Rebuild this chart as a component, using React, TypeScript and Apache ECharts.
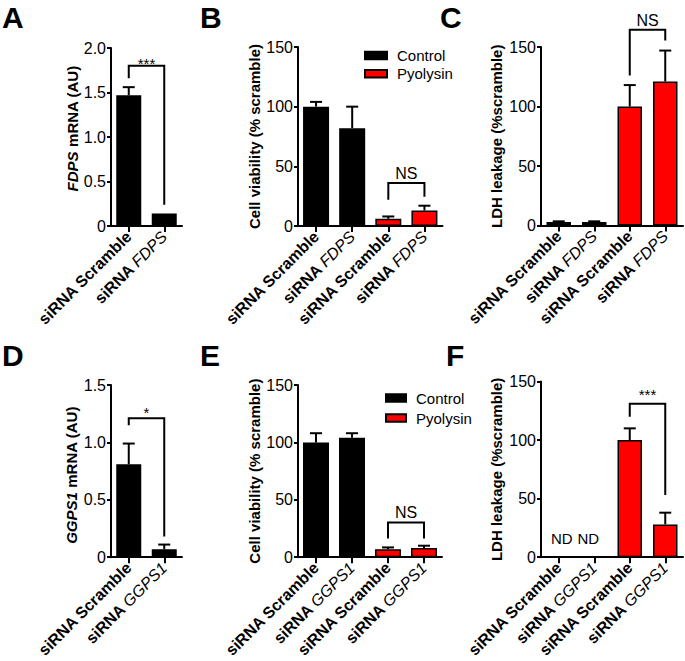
import React, { useEffect, useRef } from 'react';
import * as echarts from 'echarts';

const FONT = '"Liberation Sans", Arial, Helvetica, sans-serif';

// ---------- categories ----------
const catsA = ['siRNA Scramble', 'siRNA FDPS'];
const catsB = ['siRNA Scramble', 'siRNA FDPS', 'siRNA Scramble', 'siRNA FDPS'];
const catsC = ['siRNA Scramble', 'siRNA FDPS', 'siRNA Scramble', 'siRNA FDPS'];
const catsD = ['siRNA Scramble', 'siRNA GGPS1'];
const catsE = ['siRNA Scramble', 'siRNA GGPS1', 'siRNA Scramble', 'siRNA GGPS1'];
const catsF = ['siRNA Scramble', 'siRNA GGPS1', 'siRNA Scramble', 'siRNA GGPS1'];

const groups2 = ['Control', 'Control'];
const groups4 = ['Control', 'Control', 'Pyolysin', 'Pyolysin'];

// ---------- values (mean) and errors (SEM, upward) ----------
const aValues = [1.47, 0.14];
const aErrors = [0.09, 0];
const bValues = [100, 82, 6, 13];
const bErrors = [4, 18, 2, 4];
const cValues = [3, 3, 100, 121];
const cErrors = [0.5, 0.5, 18, 26];
const dValues = [0.81, 0.07];
const dErrors = [0.18, 0.04];
const eValues = [100, 104, 7, 8];
const eErrors = [8, 4, 1.5, 2];
const fValues = [0, 0, 100, 28];
const fErrors = [0, 0, 10, 10];
const fNotDetected = [true, true, false, false];

// ---------- significance brackets: [fromIdx, toIdx, top, leftLegEnd, rightLegEnd] ----------
const aBracket = [0, 1, 1.8, 1.66, 0.24];
const bBracket = [2, 3, 36, 22, 24.5];
const cBracket = [2, 3, 164.5, 126, 155.5];
const dBracket = [0, 1, 1.21, 1.15, 0.18];
const eBracket = [2, 3, 30.3, 16.3, 16.3];
const fBracket = [2, 3, 131, 120, 53];
const aSig = '***';
const bSig = 'NS';
const cSig = 'NS';
const dSig = '*';
const eSig = 'NS';
const fSig = '***';

// ---------- y ticks ----------
const aTicks = [0, 0.5, 1.0, 1.5, 2.0];
const bTicks = [0, 50, 100, 150];
const cTicks = [0, 50, 100, 150];
const dTicks = [0, 0.5, 1.0, 1.5];
const eTicks = [0, 50, 100, 150];
const fTicks = [0, 50, 100, 150];

// ---------- titles ----------
const aTitle = '{bi|FDPS}{b| mRNA (AU)}';
const bTitle = '{b|Cell viability (% scramble)}';
const cTitle = '{b|LDH leakage (%scramble)}';
const dTitle = '{bi|GGPS1}{b| mRNA (AU)}';
const eTitle = '{b|Cell viability (% scramble)}';
const fTitle = '{b|LDH leakage (%scramble)}';
const panelLetters = ['A', 'B', 'C', 'D', 'E', 'F'];
const legendNames = ['Control', 'Pyolysin'];

// ---------- layout (pixels) ----------
const layouts = [
  { left: 111, top: 48, width: 71, height: 178, barWidth: 25, nameGap: 25, namePad: [0, 0, 0, 17], sigGap: 2.5, letter: [2, 2] },
  { left: 298, top: 47, width: 144.5, height: 179, barWidth: 26, nameGap: 35, namePad: [0, 0, 0, 0], sigGap: 9.7, letter: [200, 2] },
  { left: 541, top: 47, width: 142, height: 178.5, barWidth: 24.5, nameGap: 37, namePad: [0, 0, 0, 0], sigGap: 9.3, letter: [440, 2] },
  { left: 111, top: 385, width: 71, height: 178.3, barWidth: 25, nameGap: 32, namePad: [0, 8, 0, 0], sigGap: 5.5, letter: [2, 340] },
  { left: 298, top: 385, width: 144, height: 177.7, barWidth: 26, nameGap: 35, namePad: [0, 0, 0, 0], sigGap: 10, letter: [200, 340] },
  { left: 541, top: 381.5, width: 142, height: 178.5, barWidth: 24.5, nameGap: 37, namePad: [0, 0, 0, 0], sigGap: 8.8, letter: [446, 340] },
];

const panels = [
  { cats: catsA, values: aValues, errors: aErrors, groups: groups2, bracket: aBracket, sig: aSig, ticks: aTicks, title: aTitle, nd: null as boolean[] | null },
  { cats: catsB, values: bValues, errors: bErrors, groups: groups4, bracket: bBracket, sig: bSig, ticks: bTicks, title: bTitle, nd: null },
  { cats: catsC, values: cValues, errors: cErrors, groups: groups4, bracket: cBracket, sig: cSig, ticks: cTicks, title: cTitle, nd: null },
  { cats: catsD, values: dValues, errors: dErrors, groups: groups2, bracket: dBracket, sig: dSig, ticks: dTicks, title: dTitle, nd: null },
  { cats: catsE, values: eValues, errors: eErrors, groups: groups4, bracket: eBracket, sig: eSig, ticks: eTicks, title: eTitle, nd: null },
  { cats: catsF, values: fValues, errors: fErrors, groups: groups4, bracket: fBracket, sig: fSig, ticks: fTicks, title: fTitle, nd: fNotDetected },
];

const ndOffsets = [[3, 0], [-6, 0]];

const xLabelRich = {
  b: { fontWeight: 'bold', fontSize: 16, fontFamily: FONT, color: '#000' },
  i: { fontStyle: 'italic', fontSize: 16, fontFamily: FONT, color: '#000' },
};
const nameRich = {
  b: { fontWeight: 'bold', fontSize: 15, fontFamily: FONT, color: '#000' },
  bi: { fontWeight: 'bold', fontStyle: 'italic', fontSize: 15, fontFamily: FONT, color: '#000' },
};

function xLabelFormatter(v: string) {
  if (v === 'siRNA Scramble') return '{b|siRNA Scramble}';
  return '{b|siRNA }{i|' + v.replace('siRNA ', '') + '}';
}

function buildOption() {
  const grid: any[] = [];
  const xAxis: any[] = [];
  const yAxis: any[] = [];
  const series: any[] = [];
  const title: any[] = [];

  panels.forEach((p, i) => {
    const L = layouts[i];
    grid.push({ left: L.left, top: L.top, width: L.width, height: L.height, containLabel: false });
    xAxis.push({
      type: 'category',
      gridIndex: i,
      data: p.cats,
      axisLine: { show: true, lineStyle: { color: '#000', width: 2 } },
      axisTick: { show: true, alignWithLabel: true, length: 6, lineStyle: { color: '#000', width: 2 } },
      axisLabel: { rotate: 45, margin: 8, interval: 0, formatter: xLabelFormatter, rich: xLabelRich },
      splitLine: { show: false },
    });
    const t = p.ticks;
    const dec = t[1] < 1;
    yAxis.push({
      type: 'value',
      gridIndex: i,
      min: t[0],
      max: t[t.length - 1],
      interval: t[1] - t[0],
      name: p.title,
      nameLocation: 'middle',
      nameGap: L.nameGap,
      nameTextStyle: { rich: nameRich, padding: L.namePad },
      axisLine: { show: true, lineStyle: { color: '#000', width: 2 } },
      axisTick: { show: true, length: 4, lineStyle: { color: '#000', width: 2 } },
      axisLabel: {
        margin: 5,
        fontSize: 16,
        fontFamily: FONT,
        color: '#000',
        formatter: (v: number) => (v === 0 ? '0' : dec ? v.toFixed(1) : String(v)),
      },
      splitLine: { show: false },
    });

    legendNames.forEach((g) => {
      if (!p.groups.includes(g)) return;
      const isRed = g === 'Pyolysin';
      series.push({
        type: 'bar',
        name: g,
        xAxisIndex: i,
        yAxisIndex: i,
        barWidth: L.barWidth,
        barGap: '-100%',
        itemStyle: { color: isRed ? '#ff0000' : '#000', borderColor: '#000', borderWidth: 1.5 },
        data: p.values.map((v, k) => {
          if (p.groups[k] !== g) return '-';
          if (p.nd && p.nd[k]) {
            return {
              value: 0,
              itemStyle: { borderWidth: 0, color: 'rgba(0,0,0,0)', borderColor: 'rgba(0,0,0,0)' },
              label: {
                show: true,
                position: 'top',
                distance: 11,
                offset: ndOffsets[k] || [0, 0],
                formatter: 'ND',
                fontSize: 15,
                fontFamily: FONT,
                color: '#000',
              },
            };
          }
          return v;
        }),
        z: 2,
      });
    });

    // error bars
    series.push({
      type: 'custom',
      xAxisIndex: i,
      yAxisIndex: i,
      z: 3,
      encode: { x: 0, y: [1, 2] },
      data: p.values
        .map((v, k) => [k, v, v + p.errors[k]])
        .filter((d, k) => p.errors[k] > 0),
      renderItem: (params: any, api: any) => {
        const base = api.coord([api.value(0), api.value(1)]);
        const top = api.coord([api.value(0), api.value(2)]);
        const hw = 6;
        return {
          type: 'group',
          children: [
            { type: 'line', shape: { x1: base[0], y1: base[1], x2: top[0], y2: top[1] }, style: { stroke: '#000', lineWidth: 2 } },
            { type: 'line', shape: { x1: top[0] - hw, y1: top[1], x2: top[0] + hw, y2: top[1] }, style: { stroke: '#000', lineWidth: 2 } },
          ],
        };
      },
    });

    // significance bracket
    const isStar = p.sig.indexOf('*') >= 0;
    series.push({
      type: 'custom',
      xAxisIndex: i,
      yAxisIndex: i,
      z: 4,
      clip: false,
      encode: { x: 0, y: 2 },
      data: [p.bracket],
      renderItem: (params: any, api: any) => {
        const a = api.coord([api.value(0), api.value(2)]);
        const b = api.coord([api.value(1), api.value(2)]);
        const l = api.coord([api.value(0), api.value(3)]);
        const r = api.coord([api.value(1), api.value(4)]);
        return {
          type: 'group',
          children: [
            { type: 'polyline', shape: { points: [l, a, b, r] }, style: { stroke: '#000', lineWidth: 2, fill: null } },
            {
              type: 'text',
              style: {
                text: p.sig,
                x: (a[0] + b[0]) / 2,
                y: a[1] - L.sigGap,
                align: 'center',
                verticalAlign: 'middle',
                textAlign: 'center',
                textVerticalAlign: 'middle',
                fontSize: isStar ? 15 : 16,
                fontFamily: FONT,
                fill: '#000',
              },
            },
          ],
        };
      },
    });

    title.push({
      text: panelLetters[i],
      left: L.letter[0],
      top: L.letter[1],
      padding: 0,
      textStyle: { fontSize: 30, fontWeight: 'bold', fontFamily: FONT, color: '#000' },
    });
  });

  const legendCommon = {
    data: legendNames,
    orient: 'vertical',
    icon: 'rect',
    selectedMode: false,
    padding: 0,
    itemHeight: 7.5,
    textStyle: { fontSize: 15, fontFamily: FONT, color: '#000', lineHeight: 16, padding: [0, 0, 0, 5] },
  };

  return {
    animation: false,
    backgroundColor: '#fff',
    title,
    legend: [
      { ...legendCommon, left: 364, top: 47.5, itemWidth: 22, itemGap: 2.3 },
      { ...legendCommon, left: 385, top: 390, itemWidth: 20, itemGap: 4 },
    ],
    grid,
    xAxis,
    yAxis,
    series,
  };
}

export default function App() {
  const ref = useRef<HTMLDivElement>(null);
  useEffect(() => {
    const chart = echarts.init(ref.current!, null, { renderer: 'svg' });
    chart.setOption(buildOption() as any);
    return () => chart.dispose();
  }, []);
  return (
    <div
      ref={ref}
      style={{ position: 'absolute', left: 0, top: 0, width: 685, height: 661, background: '#fff' }}
    />
  );
}
